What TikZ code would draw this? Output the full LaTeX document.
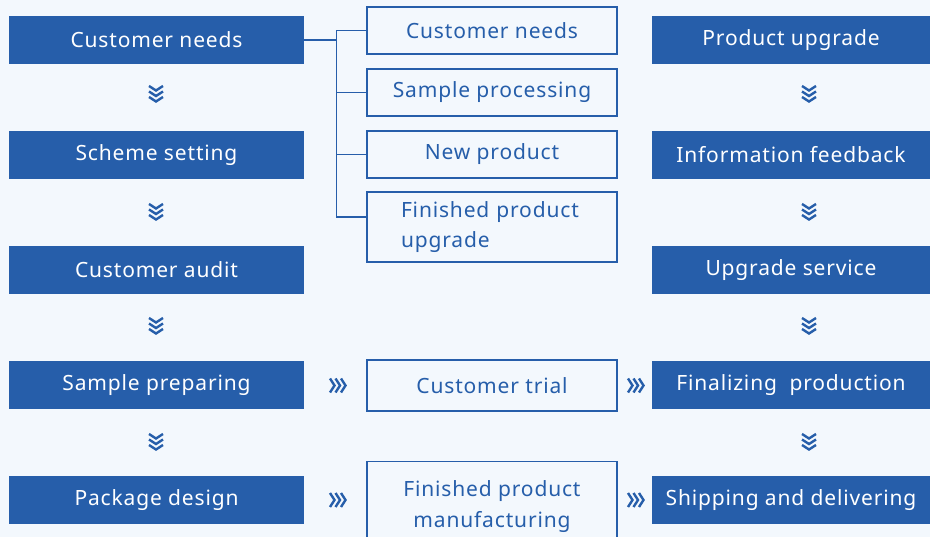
\documentclass[tikz,border=0pt]{standalone}
\usepackage{fontspec}
\setmainfont{Noto Sans}[LetterSpace=4]
\usetikzlibrary{calc}
\definecolor{boxblue}{RGB}{38,94,170}
\definecolor{bgblue}{RGB}{243,248,253}
\tikzset{
  solidbox/.style={fill=boxblue, text=white, minimum height=48pt, inner sep=0pt, font=\fontsize{21}{25}\selectfont},
  leftbox/.style={solidbox, minimum width=295pt},
  rightbox/.style={solidbox, minimum width=278pt},
  outlinebox/.style={draw=boxblue, line width=1.4pt, fill=bgblue, text=boxblue, minimum width=250pt, inner sep=0pt, font=\fontsize{21}{30.5}\selectfont},
  link/.style={draw=boxblue, line width=1.4pt},
  chev/.style={draw=boxblue, line width=2.4pt, line cap=butt, line join=miter},
  downchev/.pic={
    \foreach \i in {0,1,2} \draw[chev] (-7,-8+5.5*\i) -- (0,-3.5+5.5*\i) -- (7,-8+5.5*\i);
  },
  rightchev/.pic={
    \foreach \i in {0,1,2} \draw[chev] (-8+5.5*\i,-7) -- (-3.5+5.5*\i,0) -- (-8+5.5*\i,7);
  }
}
\begin{document}
\begin{tikzpicture}[x=1pt,y=-1pt]
\clip (0,0) rectangle (930,537);
\fill[bgblue] (0,0) rectangle (930,537);
% left column
\node[leftbox] (l1) at (156.5,40) {Customer needs};
\node[leftbox] (l2) at (156.5,155) {Scheme setting};
\node[leftbox] (l3) at (156.5,270) {Customer audit};
\node[leftbox] (l4) at (156.5,385) {Sample preparing};
\node[leftbox] (l5) at (156.5,500) {Package design};
% right column
\node[rightbox] (r1) at (791,40) {Product upgrade};
\node[rightbox] (r2) at (791,155) {Information feedback};
\node[rightbox] (r3) at (791,270) {Upgrade service};
\node[rightbox] (r4) at (791,385) {Finalizing\ \ production};
\node[rightbox] (r5) at (791,500) {Shipping and delivering};
% middle column
\node[outlinebox, minimum height=47pt] (m1) at (492,30.5) {Customer needs};
\node[outlinebox, minimum height=47pt] (m2) at (492,92.5) {Sample processing};
\node[outlinebox, minimum height=47pt] (m3) at (492,154.5) {New product};
\node[outlinebox, minimum height=70pt, text width=182pt, align=left] (m4) at (492,227) {Finished product\\upgrade};
\node[outlinebox, minimum height=51pt] (m5) at (492,385.5) {Customer trial};
\node[outlinebox, minimum height=90pt, align=center, anchor=north] (m6) at (492,461) {Finished product\\manufacturing};
% tree connector
\coordinate (j) at ($(l1.east)+(32,0)$);
\draw[link] (l1.east) -- (j);
\draw[link] (j) |- (m1.west);
\draw[link] (j) |- (m2.west);
\draw[link] (j) |- (m3.west);
\draw[link] (j) |- ([yshift=10pt]m4.west);
% down chevrons
\foreach \y in {94,212,326,442} {
  \pic at (156,\y) {downchev};
  \pic at (809,\y) {downchev};
}
% right chevrons
\pic at (338,385.5) {rightchev};
\pic at (338,500) {rightchev};
\pic at (636,385.5) {rightchev};
\pic at (636,500) {rightchev};
\end{tikzpicture}
\end{document}
